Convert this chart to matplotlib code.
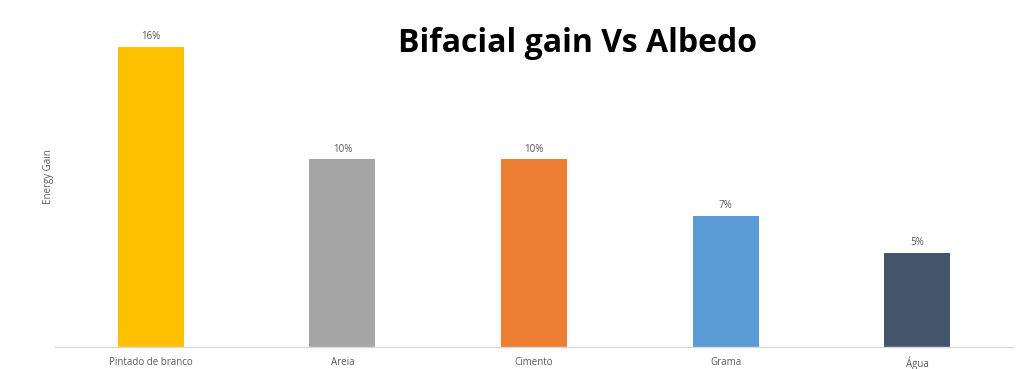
import matplotlib
matplotlib.use("Agg")
import matplotlib.pyplot as plt

categories = ["Pintado de branco", "Areia", "Cimento", "Grama", "Água"]
values = [16, 10, 10, 7, 5]
colors = ["#FFC000", "#A5A5A5", "#ED7D31", "#5B9BD5", "#44546A"]

plt.rcParams['font.family'] = ['Open Sans', 'DejaVu Sans']

W, H = 1024, 369
fig = plt.figure(figsize=(W/100, H/100), dpi=100)
left, right, bottom, top = 55, 1013, 347, 28
ax = fig.add_axes([left/W, (H-bottom)/H, (right-left)/W, (bottom-top)/H])

x = range(len(categories))
bars = ax.bar(x, values, width=0.344, color=colors)
ax.set_xlim(-0.5, len(categories)-0.5)
ax.set_ylim(0, (bottom-top)/18.77)

for xi, v in zip(x, values):
    ax.text(xi, v + 0.25, f"{v}%", ha="center", va="bottom", fontsize=7, color="#595959")

ax.set_xticks(list(x))
ax.set_xticklabels(categories, fontsize=7, color="#595959")
ax.tick_params(axis="x", length=0, pad=7)
ax.set_yticks([])
for s in ["top", "right", "left"]:
    ax.spines[s].set_visible(False)
ax.spines["bottom"].set_color("#D9D9D9")
ax.spines["bottom"].set_linewidth(1)

fig.text(48/W, 1-177/H, "Energy Gain", rotation=90, ha="center", va="center", fontsize=7, color="#595959")
fig.text(577/W, 1-44/H, "Bifacial gain Vs Albedo", ha="center", va="center", fontsize=23, fontweight="bold", color="black")

fig.savefig("out.png", dpi=100)
